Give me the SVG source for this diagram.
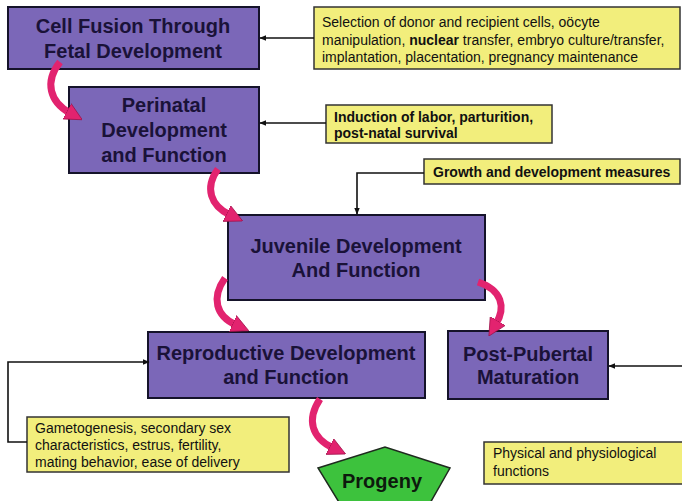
<svg xmlns="http://www.w3.org/2000/svg" width="682" height="501" viewBox="0 0 682 501">
<style>
.box{fill:#7b67b8;stroke:#15132a;stroke-width:2}
.note{fill:#f2ee7c;stroke:#333;stroke-width:1.5}
.bt{font-family:"Liberation Sans",Arial,sans-serif;font-weight:bold;font-size:20px;fill:#1a1238;text-anchor:middle}
.nt{font-family:"Liberation Sans",Arial,sans-serif;font-size:14px;fill:#111}
.nb{font-family:"Liberation Sans",Arial,sans-serif;font-size:14px;font-weight:bold;fill:#111}
.thin{fill:none;stroke:#111;stroke-width:1.6}
.curve{fill:none;stroke:#e2236f;stroke-width:7}
</style>
<defs>
<marker id="ah" viewBox="0 0 10 10" refX="9" refY="5" markerUnits="userSpaceOnUse" markerWidth="7" markerHeight="7" orient="auto">
<path d="M0,1 L10,5 L0,9 Z" fill="#111"/>
</marker>
<marker id="ph" viewBox="0 0 10 10" refX="2" refY="5" markerUnits="strokeWidth" markerWidth="2.5" markerHeight="2.6" orient="auto">
<path d="M0,0 L10,5 L0,10 Z" fill="#e2236f" stroke="#9c1048" stroke-width="0.4"/>
</marker>
</defs>
<rect width="682" height="501" fill="#ffffff"/>

<g id="cell-fusion">
<rect class="box" x="8" y="7" width="251" height="62"/>
<text class="bt" x="133" y="33">Cell Fusion Through</text>
<text class="bt" x="133" y="58">Fetal Development</text>
</g>

<g id="note-selection">
<rect class="note" x="314" y="7" width="366" height="62"/>
<text class="nt" x="322" y="27">Selection of donor and recipient cells, oöcyte</text>
<text class="nt" x="322" y="44.5">manipulation, <tspan font-weight="bold">nuclear</tspan> transfer, embryo culture/transfer,</text>
<text class="nt" x="322" y="62">implantation, placentation, pregnancy maintenance</text>
</g>

<g id="perinatal">
<rect class="box" x="69" y="87" width="190" height="86"/>
<text class="bt" x="164" y="112">Perinatal</text>
<text class="bt" x="164" y="137">Development</text>
<text class="bt" x="164" y="162">and Function</text>
</g>

<g id="note-labor">
<rect class="note" x="326" y="105" width="226" height="38"/>
<text class="nb" x="334" y="122">Induction of labor, parturition,</text>
<text class="nb" x="334" y="138">post-natal survival</text>
</g>

<g id="note-growth">
<rect class="note" x="424" y="159" width="256" height="25"/>
<text class="nb" x="433" y="177">Growth and development measures</text>
</g>

<g id="juvenile">
<rect class="box" x="228" y="215" width="257" height="85"/>
<text class="bt" x="356" y="253">Juvenile Development</text>
<text class="bt" x="356" y="277">And Function</text>
</g>

<g id="reproductive">
<rect class="box" x="148" y="332" width="277" height="66"/>
<text class="bt" x="286" y="360">Reproductive Development</text>
<text class="bt" x="286" y="384">and Function</text>
</g>

<g id="post-pubertal">
<rect class="box" x="448" y="331" width="160" height="68"/>
<text class="bt" x="528" y="361">Post-Pubertal</text>
<text class="bt" x="528" y="384">Maturation</text>
</g>

<g id="note-gametogenesis">
<rect class="note" x="27" y="417" width="262" height="55"/>
<text class="nt" x="35" y="433">Gametogenesis, secondary sex</text>
<text class="nt" x="35" y="450">characteristics, estrus, fertility,</text>
<text class="nt" x="35" y="467">mating behavior, ease of delivery</text>
</g>

<g id="note-physical">
<rect class="note" x="484" y="442" width="210" height="42"/>
<text class="nt" x="493" y="458">Physical and physiological</text>
<text class="nt" x="493" y="476">functions</text>
</g>

<g id="progeny">
<polygon points="318,468 385,447 450,468 425,512 345,512" fill="#3dc23d" stroke="#1f2a1f" stroke-width="1.5"/>
<text class="bt" x="382" y="488" style="fill:#0d1a0d">Progeny</text>
</g>

<g id="connectors">
<path class="thin" d="M314,38 H260" marker-end="url(#ah)"/>
<path class="thin" d="M326,123 H260" marker-end="url(#ah)"/>
<path class="thin" d="M424,173 H357 V214" marker-end="url(#ah)"/>
<path class="thin" d="M682,366 H609" marker-end="url(#ah)"/>
<path class="thin" d="M27,442 H8 V362 H149" marker-end="url(#ah)"/>
<path class="curve" d="M60,62 C44,82 50,102 70,113" marker-end="url(#ph)"/>
<path class="curve" d="M218,169 C204,188 211,206 230,215" marker-end="url(#ph)"/>
<path class="curve" d="M225,278 C211,298 216,316 236,325" marker-end="url(#ph)"/>
<path class="curve" d="M478,282 C502,290 506,307 496,324" marker-end="url(#ph)"/>
<path class="curve" d="M320,399 C306,420 312,438 333,448" marker-end="url(#ph)"/>
</g>
</svg>
